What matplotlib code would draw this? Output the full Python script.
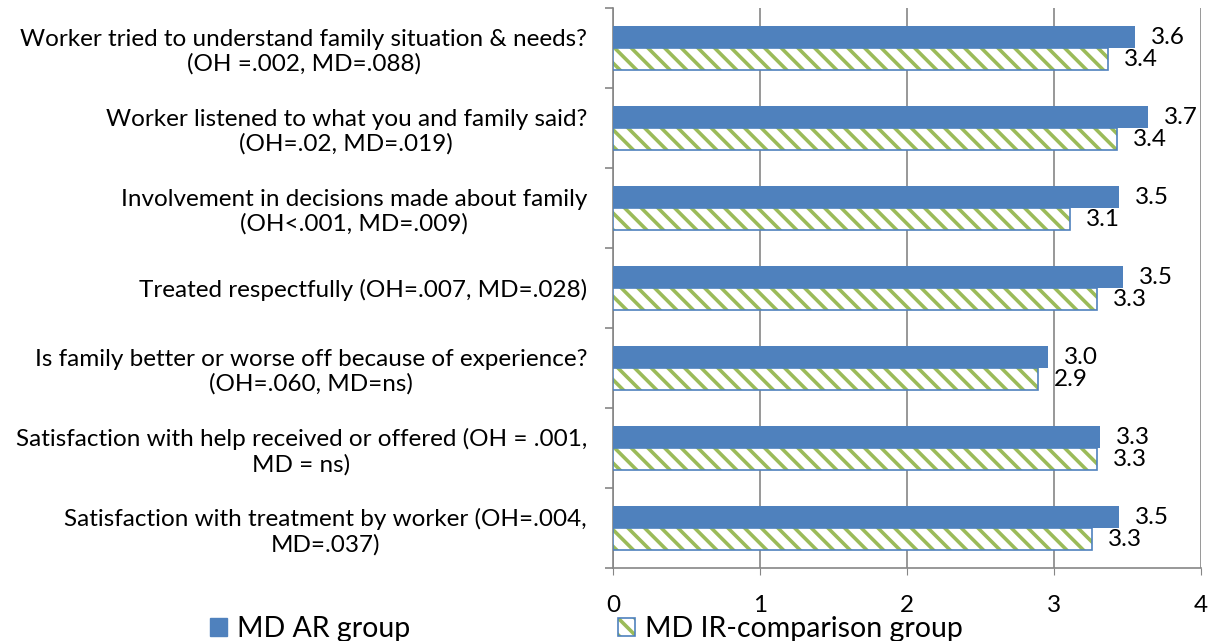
import matplotlib
matplotlib.use("Agg")
import matplotlib.pyplot as plt
from matplotlib.patches import Patch
import numpy as np

plt.rcParams['font.family'] = ['Lato', 'DejaVu Sans']
plt.rcParams['hatch.linewidth'] = 2.6

categories = [
    "Worker tried to understand family situation & needs?\n(OH =.002, MD=.088)",
    "Worker listened to what you and family said?\n(OH=.02, MD=.019)",
    "Involvement in decisions made about family\n(OH<.001, MD=.009)",
    "Treated respectfully (OH=.007, MD=.028)",
    "Is family better or worse off because of experience?\n(OH=.060, MD=ns)",
    "Satisfaction with help received or offered (OH = .001,\nMD = ns)",
    "Satisfaction with treatment by worker (OH=.004,\nMD=.037)",
]
ar_group = [3.55, 3.64, 3.44, 3.47, 2.96, 3.31, 3.44]
ir_group = [3.37, 3.43, 3.11, 3.29, 2.89, 3.29, 3.26]
ar_labels = ["3.6", "3.7", "3.5", "3.5", "3.0", "3.3", "3.5"]
ir_labels = ["3.4", "3.4", "3.1", "3.3", "2.9", "3.3", "3.3"]

blue = '#4F81BD'
green = '#9BBB59'
grid = '#868686'
hatch = '\\\\'

fig = plt.figure(figsize=(12.11, 6.41), dpi=100)
ax = fig.add_axes([613 / 1211, 1 - 568 / 641, 588 / 1211, 560 / 641])

y = np.arange(len(categories))
h = 0.275
off = 0.1375

ax.barh(y - off, ar_group, height=h, color=blue, zorder=3)
ax.barh(y + off, ir_group, height=h, color='white', edgecolor=green,
        hatch=hatch, linewidth=0, zorder=3)
ax.barh(y + off, ir_group, height=h, color='none', edgecolor=blue,
        linewidth=1.2, zorder=4)

fs = 17.5
for i in range(len(categories)):
    ax.annotate(ar_labels[i], (ar_group[i], y[i] - off), xytext=(16, 0),
                textcoords='offset pixels', va='center', ha='left', fontsize=fs)
    ax.annotate(ir_labels[i], (ir_group[i], y[i] + off), xytext=(16, 0),
                textcoords='offset pixels', va='center', ha='left', fontsize=fs)

ax.set_xlim(0, 4)
ax.set_ylim(len(categories) - 0.5, -0.5)
ax.set_xticks([0, 1, 2, 3, 4])
ax.tick_params(axis='x', labelsize=fs, length=5, color=grid, pad=14.5)
ax.set_yticks(y)
ax.set_yticklabels(categories, fontsize=fs, multialignment='center')
ax.tick_params(axis='y', which='major', length=0, pad=18.7)
ax.set_yticks(np.arange(-0.5, len(categories)), minor=True)
ax.tick_params(axis='y', which='minor', length=6, color=grid, width=1.2)

ax.xaxis.grid(True, color=grid, linewidth=1.2, zorder=0)
ax.set_axisbelow(True)
for s in ['top', 'right']:
    ax.spines[s].set_visible(False)
for s in ['left', 'bottom']:
    ax.spines[s].set_color(grid)
    ax.spines[s].set_linewidth(1.2)

h1 = Patch(facecolor=blue, edgecolor=blue)
h2 = (Patch(facecolor='white', edgecolor=green, hatch=hatch, linewidth=0),
      Patch(facecolor='none', edgecolor=blue, linewidth=1.2))
fig.legend([h1, h2], ["MD AR group", "MD IR-comparison group"], ncol=2,
           loc='center left', bbox_to_anchor=(196 / 1211, 1 - 629 / 641),
           frameon=False, fontsize=20.5, handlelength=0.6, handleheight=0.6,
           handletextpad=0.35, columnspacing=7.3, borderpad=0)

fig.savefig('out.png', dpi=100)
